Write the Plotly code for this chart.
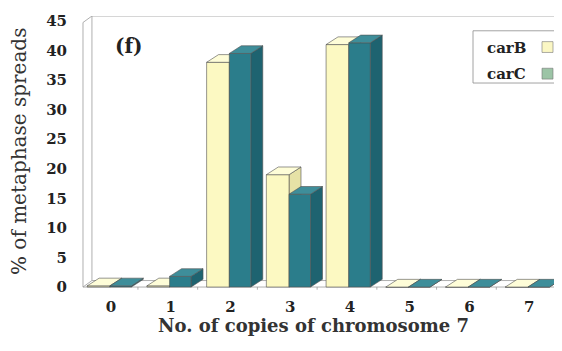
import plotly.graph_objects as go

categories = ["0", "1", "2", "3", "4", "5", "6", "7"]
carB = [0.2, 0.2, 38.0, 19.0, 41.0, 0.0, 0.0, 0.0]
carC = [0.2, 1.8, 39.5, 15.7, 41.3, 0.0, 0.0, 0.0]
y_ticks = [0, 5, 10, 15, 20, 25, 30, 35, 40, 45]
series_names = ["carB", "carC"]

W, H = 562, 351
OFF = 8                      # page body margin compensation
ML, MT = 80 - OFF, 12 - OFF
MR, MB = OFF, H - (290 - OFF)
XR = [-0.52, 7.55]
YR = [-0.5, 45.83]

DX, DY = 0.20, 1.3          # 3-D depth offset (data units)
slots = [(-0.40, -0.02), (-0.02, 0.34)]
pal = [
    dict(front="#FCF9C2", top="#FEFDD8", side="#E6E2A6", sw="#FBF7C4"),
    dict(front="#2B7D8B", top="#3E8E9A", side="#1E6370", sw="#9CC4A6"),
]
edge = dict(color="#505050", width=0.6)

fig = go.Figure()


def add_poly(polys, color):
    xs, ys = [], []
    for p in polys:
        for (a, b) in p:
            xs.append(a)
            ys.append(b)
        xs.append(p[0][0]); ys.append(p[0][1])
        xs.append(None); ys.append(None)
    fig.add_trace(go.Scatter(x=xs, y=ys, mode="lines", fill="toself",
                             fillcolor=color, line=edge, hoverinfo="skip",
                             showlegend=False))


# walls / floor (decor)
XL = XR[0] + 0.05
WDX, WDY = 0.15, 1.1
fig.add_trace(go.Scatter(
    x=[XL, XL, XL + WDX, XL + WDX, XL, None, XL + WDX, XR[1], None,
       XL, XR[1], None, XL + WDX, XR[1]],
    y=[0, YR[1] - WDY, YR[1], WDY, 0, None, YR[1], YR[1], None,
       0, 0, None, WDY, WDY],
    mode="lines", line=dict(color="#9a9a9a", width=0.8),
    hoverinfo="skip", showlegend=False))
tx, ty = [], []
for k in range(len(categories) + 1):
    tx += [k - 0.55, k - 0.55, None]
    ty += [0, -0.45, None]
fig.add_trace(go.Scatter(x=tx, y=ty, mode="lines",
                         line=dict(color="#9a9a9a", width=0.8),
                         hoverinfo="skip", showlegend=False))

for s, vals in enumerate([carB, carC]):
    a, b = slots[s]
    fronts, tops, sides = [], [], []
    for i, v in enumerate(vals):
        c = i
        fronts.append([(c + a, 0), (c + b, 0), (c + b, v), (c + a, v)])
        tops.append([(c + a, v), (c + b, v), (c + b + DX, v + DY), (c + a + DX, v + DY)])
        sides.append([(c + b, 0), (c + b + DX, DY), (c + b + DX, v + DY), (c + b, v)])
    add_poly(sides, pal[s]["side"])
    add_poly(fronts, pal[s]["front"])
    add_poly(tops, pal[s]["top"])

PW = W - ML - MR
PH = H - MT - MB


def px(xp):
    return (xp - OFF - ML) / PW


def py(yp):
    return (H - MB - (yp - OFF)) / PH


shapes = [dict(type="rect", xref="paper", yref="paper",
               x0=px(473), x1=px(561.5), y0=py(80), y1=py(27),
               line=dict(color="#8a8a8a", width=0.8), fillcolor="rgba(0,0,0,0)")]
annotations = []
for s, name in enumerate(series_names):
    yc = 44 + 27 * s
    annotations.append(dict(text=name, xref="paper", yref="paper",
                            x=px(506), y=py(yc), xanchor="center", yanchor="middle",
                            showarrow=False,
                            font=dict(family="DejaVu Serif", size=15, color="#222",
                                      weight="bold")))
    shapes.append(dict(type="rect", xref="paper", yref="paper",
                       x0=px(542), x1=px(553), y0=py(yc + 5), y1=py(yc - 6),
                       line=dict(color="#777", width=0.6), fillcolor=pal[s]["sw"]))

annotations.append(dict(text="(f)", xref="paper", yref="paper", x=px(129), y=py(42),
                        xanchor="center", yanchor="middle", showarrow=False,
                        font=dict(family="DejaVu Serif", size=20, color="#222",
                                  weight="bold")))
annotations.append(dict(text="% of metaphase spreads", xref="paper", yref="paper",
                        x=px(19), y=py(150), xanchor="center", yanchor="middle",
                        textangle=-90, showarrow=False,
                        font=dict(family="DejaVu Serif", size=20, color="#333")))
annotations.append(dict(text="No. of copies of chromosome 7", xref="paper", yref="paper",
                        x=px(313), y=py(326), xanchor="center", yanchor="middle",
                        showarrow=False,
                        font=dict(family="DejaVu Serif", size=18, color="#333",
                                  weight="bold")))

fig.update_layout(
    width=W, height=H,
    margin=dict(l=ML, r=MR, t=MT, b=MB),
    paper_bgcolor="white", plot_bgcolor="white",
    showlegend=False,
    shapes=shapes, annotations=annotations,
    xaxis=dict(range=XR, tickmode="array", tickvals=list(range(len(categories))),
               ticktext=categories, showgrid=False, zeroline=False, showline=False,
               ticks="", ticklabelstandoff=6, ticklabelshift=0,
               tickfont=dict(family="DejaVu Serif", size=15, color="#222",
                             weight="bold")),
    yaxis=dict(range=YR, tickmode="array", tickvals=y_ticks, showgrid=False,
               zeroline=False, showline=False, ticks="", ticklabelstandoff=12,
               tickfont=dict(family="DejaVu Serif", size=15, color="#222",
                             weight="bold")),
)

fig.write_html("out.html")
